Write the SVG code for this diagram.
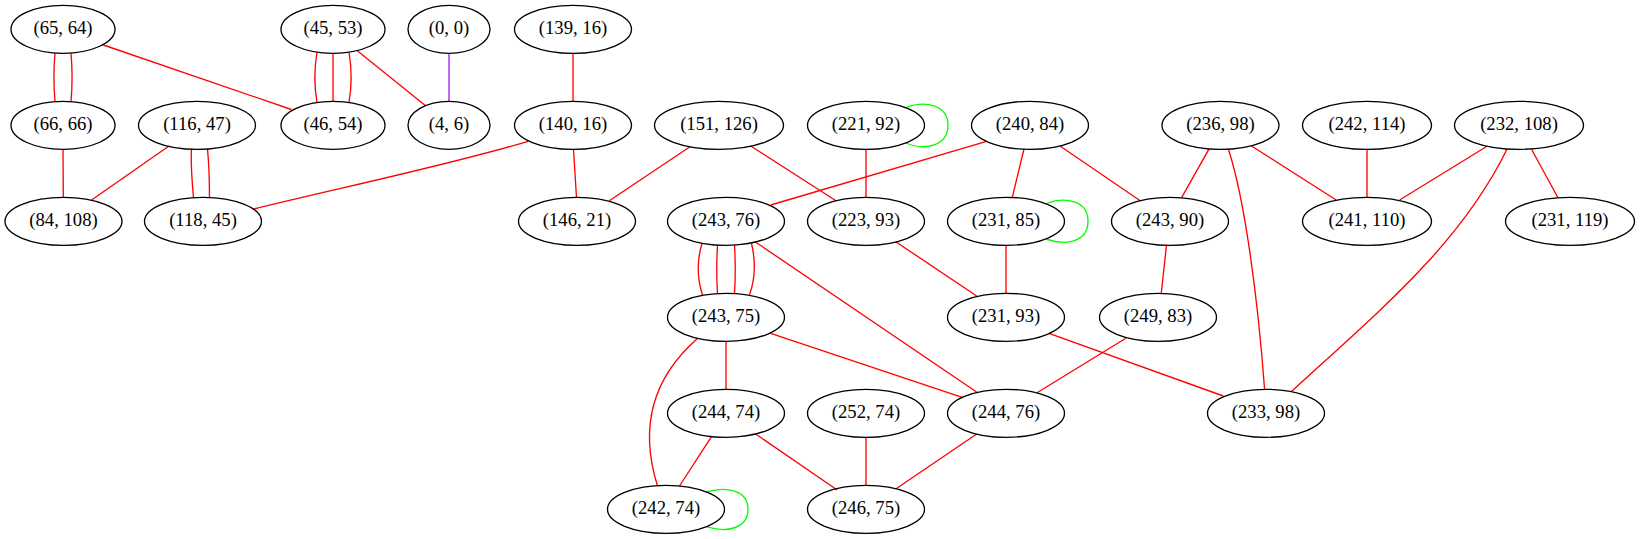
<svg xmlns="http://www.w3.org/2000/svg" width="1640" height="539" viewBox="0 0 1640 539">
<style>
.n ellipse{fill:none;stroke:#000;stroke-width:1.33}
.n text{text-anchor:middle;fill:#000}
.e path{fill:none;stroke:#ff0000;stroke-width:1.33}
.e path.g{stroke:#00ff00}
.e path.p{stroke:#a020f0}
</style>
<rect width="1640" height="539" fill="#fff"/>
<g id="edges" class="e">
<path d="M55,53.3 C53.5,70 53.5,85 55,101.3"/>
<path d="M71,53.3 C72.5,70 72.5,85 71,101.3"/>
<path d="M103.4,45 L291.4,109.5"/>
<path d="M317,52 C314,70 314,85 317,102.5"/>
<path d="M333,53.3 L333,101.3"/>
<path d="M349,52 C352,70 352,85 349,102.5"/>
<path d="M357.3,50.7 L425.6,105.7"/>
<path class="p" d="M449,53.3 L449,101.3"/>
<path d="M573,53.3 L573,101.3"/>
<path d="M63,149.3 L63.3,197.3"/>
<path d="M169,146 L91.6,200"/>
<path d="M191.5,148.8 C190.5,165 192,180 193.5,198"/>
<path d="M207.5,148.8 C209,165 209.5,180 209.5,198"/>
<path d="M528,141.3 C450,165 330,190 252.7,209.3"/>
<path d="M573.5,149.3 L576.5,197.3"/>
<path d="M690,146.7 L609.3,200.7"/>
<path d="M750.7,146 L836,200.7"/>
<path class="g" d="M906,107.5 C925,100 948,105 948,125.3 C948,146 925,151 906,143"/>
<path d="M866,149.3 L866,197.3"/>
<path d="M985.7,141.7 L770.7,205"/>
<path d="M1024,149 L1012.3,197.3"/>
<path d="M1060,146 L1140.6,201"/>
<path d="M1208.8,149.3 L1181.6,197.7"/>
<path d="M1228.4,149.3 C1245,200 1258,300 1264.6,389.5"/>
<path d="M1251.5,146 L1336.2,200"/>
<path d="M1367,149.3 L1367,197.3"/>
<path d="M1487.4,146 L1399.6,200"/>
<path d="M1531.5,149.3 L1558,197.7"/>
<path d="M1507,149.3 C1460,245 1380,310 1291.5,391.5"/>
<path d="M702,243.5 C697,260 697,278 702.5,295"/>
<path d="M717.5,245 C716.5,262 716.5,278 717.5,293.5"/>
<path d="M734.5,245 C735.5,262 735.5,278 734.5,293.5"/>
<path d="M751.5,243.5 C755.5,260 755.5,278 749.5,295"/>
<path d="M755,241.7 L977.7,392.7"/>
<path d="M895.7,241.7 L976.7,296"/>
<path class="g" d="M1046.5,203.5 C1066,196 1088,201 1088,221.3 C1088,242 1066,246 1046.5,239"/>
<path d="M1006,245.3 L1006,293.3"/>
<path d="M1166.5,245 L1161.3,292.7"/>
<path d="M726,341.3 L726,389.3"/>
<path d="M770.7,333.3 L962.2,397.3"/>
<path d="M697.5,338.5 C650,380 640,430 657.5,486"/>
<path d="M1049,333.3 L1223.3,396"/>
<path d="M1125.8,338.3 L1037,392.7"/>
<path d="M711.5,436.7 L679.5,486"/>
<path d="M755.6,434 L837.2,490"/>
<path d="M866,437.3 L866,485.3"/>
<path d="M976.7,434 L895.7,489"/>
<path class="g" d="M706.3,492 C726,486 748,490 748,509.3 C748,529 726,533 706.3,526.7"/>
</g>
<g font-family="Liberation Serif" font-size="18.67">
<g id="n_65_64" class="n"><ellipse cx="63" cy="29.3" rx="52" ry="24"/><text x="63" y="34.3">(65, 64)</text></g>
<g id="n_45_53" class="n"><ellipse cx="333" cy="29.3" rx="52" ry="24"/><text x="333" y="34.3">(45, 53)</text></g>
<g id="n_0_0" class="n"><ellipse cx="449" cy="29.3" rx="41" ry="24"/><text x="449" y="34.3">(0, 0)</text></g>
<g id="n_139_16" class="n"><ellipse cx="573" cy="29.3" rx="58.5" ry="24"/><text x="573" y="34.3">(139, 16)</text></g>
<g id="n_66_66" class="n"><ellipse cx="63" cy="125.3" rx="52" ry="24"/><text x="63" y="130.3">(66, 66)</text></g>
<g id="n_116_47" class="n"><ellipse cx="197" cy="125.3" rx="58.5" ry="24"/><text x="197" y="130.3">(116, 47)</text></g>
<g id="n_46_54" class="n"><ellipse cx="333" cy="125.3" rx="52" ry="24"/><text x="333" y="130.3">(46, 54)</text></g>
<g id="n_4_6" class="n"><ellipse cx="449" cy="125.3" rx="41" ry="24"/><text x="449" y="130.3">(4, 6)</text></g>
<g id="n_140_16" class="n"><ellipse cx="573" cy="125.3" rx="58.5" ry="24"/><text x="573" y="130.3">(140, 16)</text></g>
<g id="n_151_126" class="n"><ellipse cx="719" cy="125.3" rx="64.5" ry="24"/><text x="719" y="130.3">(151, 126)</text></g>
<g id="n_221_92" class="n"><ellipse cx="866" cy="125.3" rx="58.5" ry="24"/><text x="866" y="130.3">(221, 92)</text></g>
<g id="n_240_84" class="n"><ellipse cx="1030" cy="125.3" rx="58.5" ry="24"/><text x="1030" y="130.3">(240, 84)</text></g>
<g id="n_236_98" class="n"><ellipse cx="1220.5" cy="125.3" rx="58.5" ry="24"/><text x="1220.5" y="130.3">(236, 98)</text></g>
<g id="n_242_114" class="n"><ellipse cx="1367" cy="125.3" rx="64.5" ry="24"/><text x="1367" y="130.3">(242, 114)</text></g>
<g id="n_232_108" class="n"><ellipse cx="1519" cy="125.3" rx="64.5" ry="24"/><text x="1519" y="130.3">(232, 108)</text></g>
<g id="n_84_108" class="n"><ellipse cx="63.5" cy="221.3" rx="58.5" ry="24"/><text x="63.5" y="226.3">(84, 108)</text></g>
<g id="n_118_45" class="n"><ellipse cx="203" cy="221.3" rx="58.5" ry="24"/><text x="203" y="226.3">(118, 45)</text></g>
<g id="n_146_21" class="n"><ellipse cx="577" cy="221.3" rx="58.5" ry="24"/><text x="577" y="226.3">(146, 21)</text></g>
<g id="n_243_76" class="n"><ellipse cx="726" cy="221.3" rx="58.5" ry="24"/><text x="726" y="226.3">(243, 76)</text></g>
<g id="n_223_93" class="n"><ellipse cx="866" cy="221.3" rx="58.5" ry="24"/><text x="866" y="226.3">(223, 93)</text></g>
<g id="n_231_85" class="n"><ellipse cx="1006" cy="221.3" rx="58.5" ry="24"/><text x="1006" y="226.3">(231, 85)</text></g>
<g id="n_243_90" class="n"><ellipse cx="1170" cy="221.3" rx="58.5" ry="24"/><text x="1170" y="226.3">(243, 90)</text></g>
<g id="n_241_110" class="n"><ellipse cx="1367" cy="221.3" rx="64.5" ry="24"/><text x="1367" y="226.3">(241, 110)</text></g>
<g id="n_231_119" class="n"><ellipse cx="1570" cy="221.3" rx="64.5" ry="24"/><text x="1570" y="226.3">(231, 119)</text></g>
<g id="n_243_75" class="n"><ellipse cx="726" cy="317.3" rx="58.5" ry="24"/><text x="726" y="322.3">(243, 75)</text></g>
<g id="n_231_93" class="n"><ellipse cx="1006" cy="317.3" rx="58.5" ry="24"/><text x="1006" y="322.3">(231, 93)</text></g>
<g id="n_249_83" class="n"><ellipse cx="1158" cy="317.3" rx="58.5" ry="24"/><text x="1158" y="322.3">(249, 83)</text></g>
<g id="n_244_74" class="n"><ellipse cx="726" cy="413.3" rx="58.5" ry="24"/><text x="726" y="418.3">(244, 74)</text></g>
<g id="n_252_74" class="n"><ellipse cx="866" cy="413.3" rx="58.5" ry="24"/><text x="866" y="418.3">(252, 74)</text></g>
<g id="n_244_76" class="n"><ellipse cx="1006" cy="413.3" rx="58.5" ry="24"/><text x="1006" y="418.3">(244, 76)</text></g>
<g id="n_233_98" class="n"><ellipse cx="1266" cy="413.3" rx="58.5" ry="24"/><text x="1266" y="418.3">(233, 98)</text></g>
<g id="n_242_74" class="n"><ellipse cx="666" cy="509.3" rx="58.5" ry="24"/><text x="666" y="514.3">(242, 74)</text></g>
<g id="n_246_75" class="n"><ellipse cx="866" cy="509.3" rx="58.5" ry="24"/><text x="866" y="514.3">(246, 75)</text></g>
</g>
</svg>
